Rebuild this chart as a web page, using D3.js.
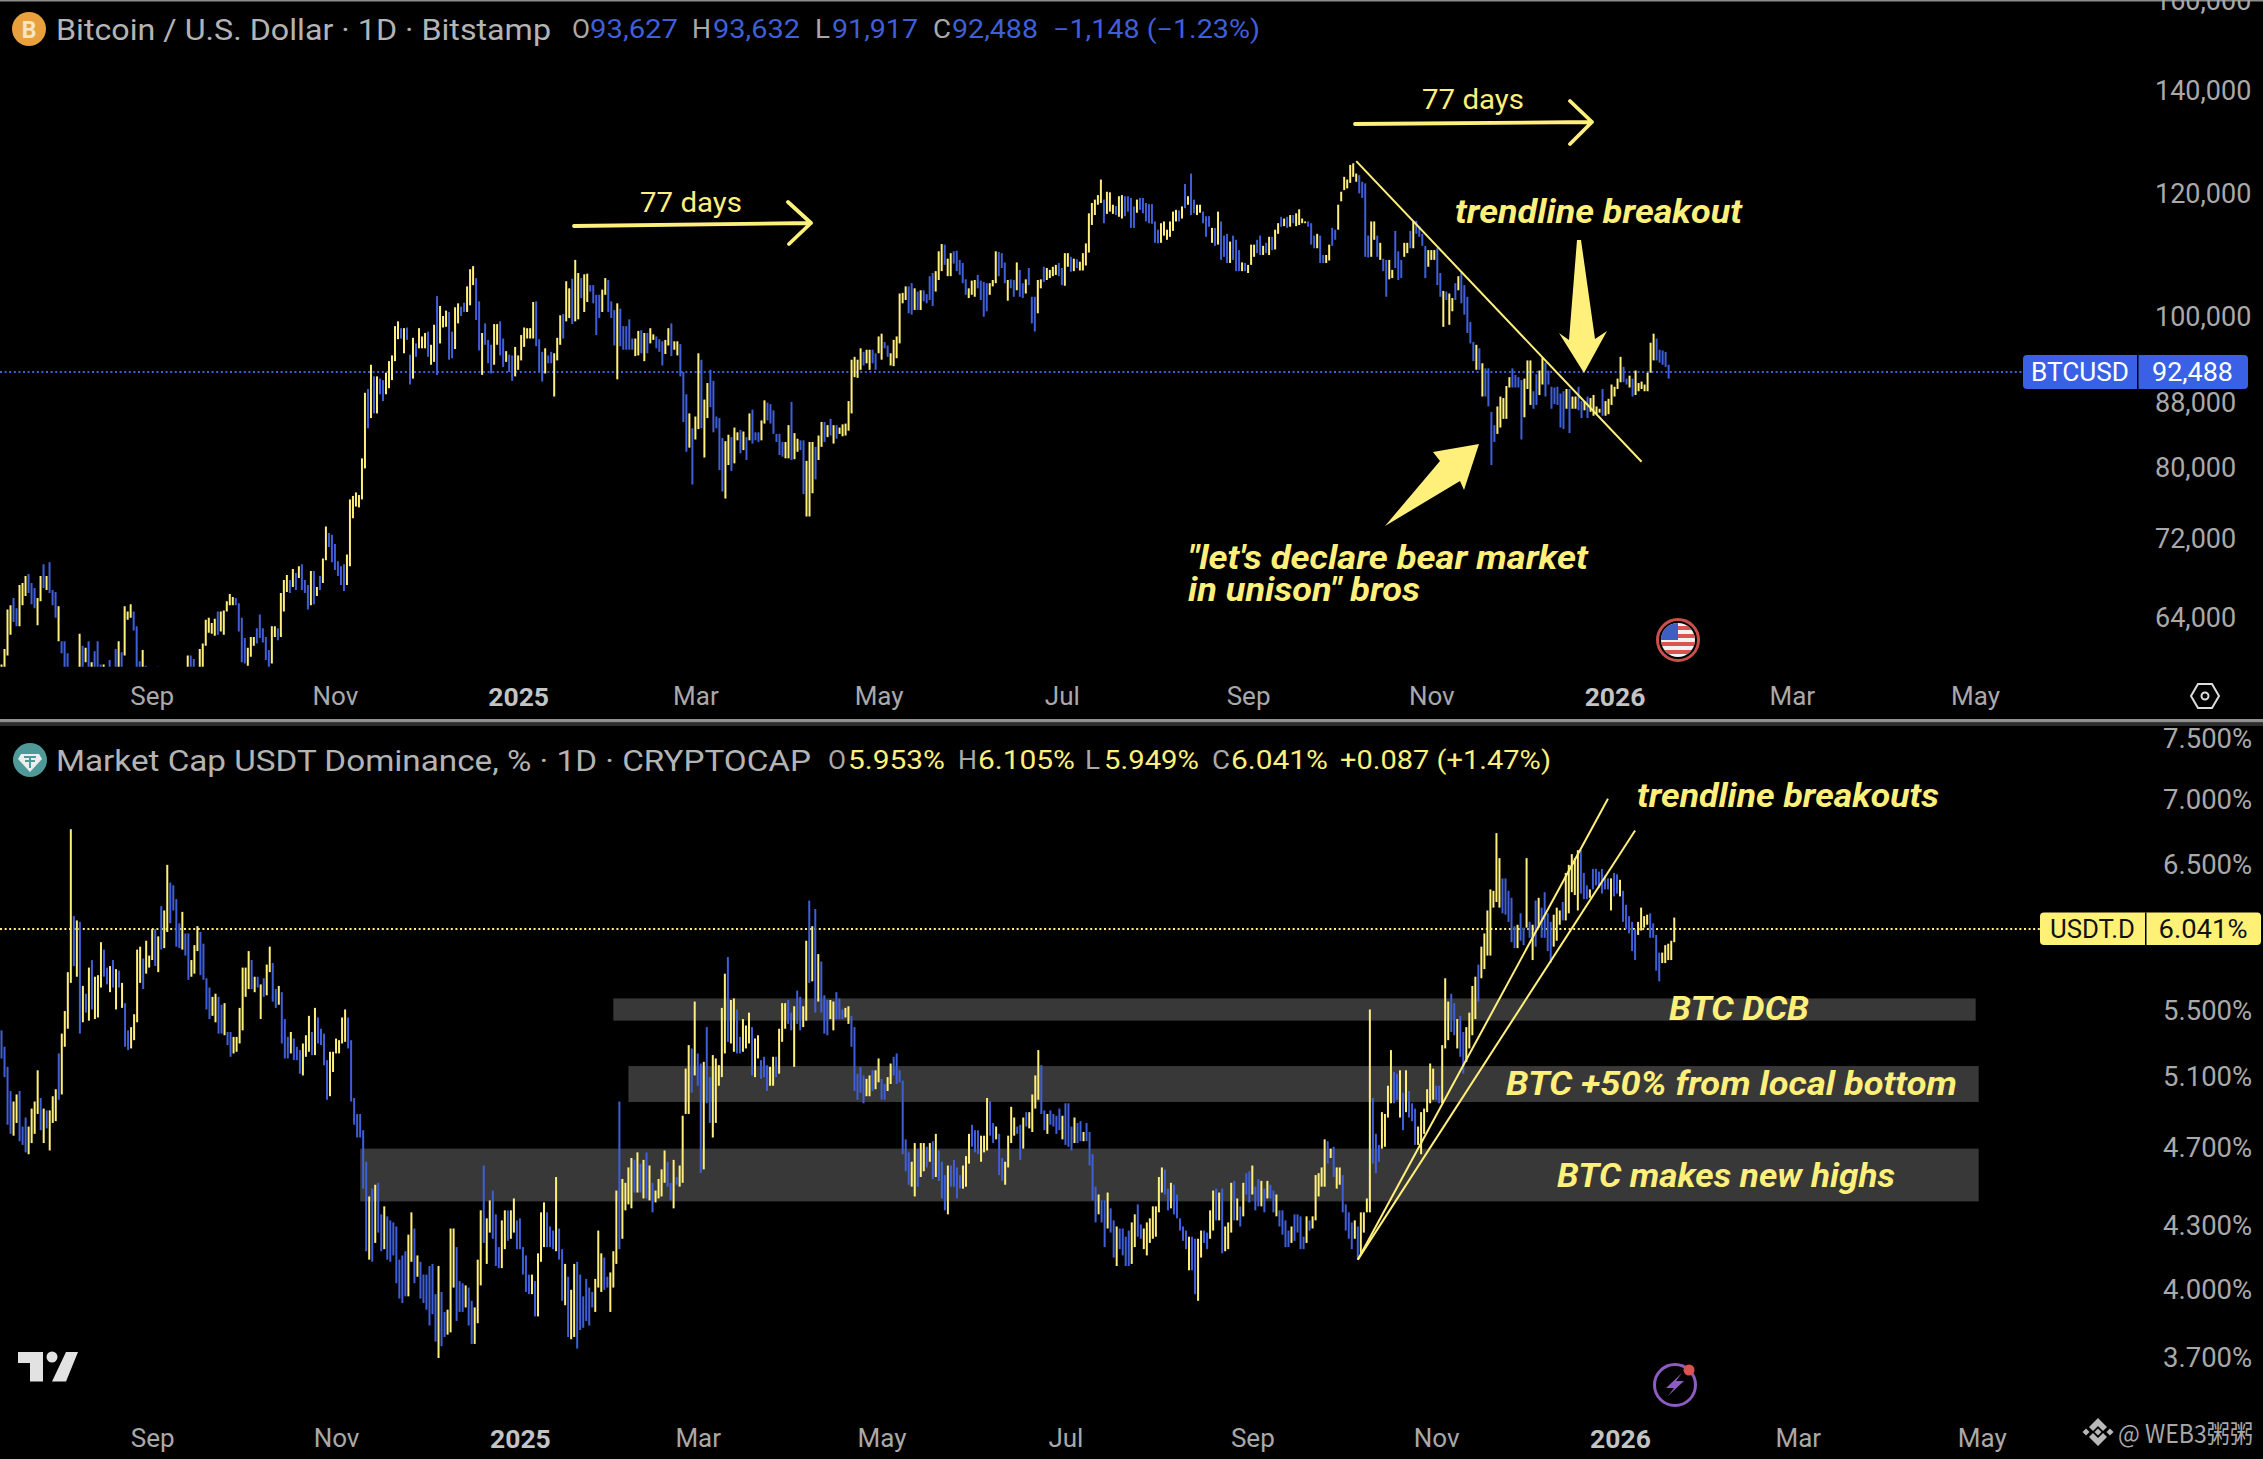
<!DOCTYPE html>
<html>
<head>
<meta charset="utf-8">
<style>
body { margin: 0; background: #000; overflow: hidden; }
text { font-family: Roboto, sans-serif; }
</style>
<script src="https://cdnjs.cloudflare.com/ajax/libs/d3/7.8.5/d3.min.js"></script>
</head>
<body>
<svg class="chart" width="2263" height="1459"></svg>
<script>
// BTCUSD daily, in thousands of dollars
var btcHigh = [
59.8,61.2,64.9,65.3,66.0,65.0,67.3,67.5,68.2,68.4,67.5,67.0,66.0,68.2,69.4,68.2,69.6,66.8,66.6,65.2,
61.9,61.9,60.8,58.5,57.5,58.8,62.6,61.5,61.3,61.9,60.0,61.0,61.9,59.8,59.8,59.3,60.2,58.5,61.2,61.9,
60.9,65.2,64.7,65.4,64.7,63.3,60.1,61.1,59.7,58.6,58.2,59.1,59.6,58.9,58.7,57.8,58.1,58.6,59.0,58.9,
59.2,59.5,60.6,60.6,60.3,59.4,61.2,61.7,63.9,64.1,63.6,64.0,64.7,64.7,64.8,65.7,66.4,66.1,66.0,65.5,
64.1,62.2,61.3,62.3,62.3,63.1,64.4,63.1,62.3,61.1,63.3,63.3,63.1,66.5,67.8,68.3,67.8,68.9,68.5,69.2,
69.4,67.8,67.3,68.7,68.7,67.1,68.2,70.0,73.4,72.7,72.5,71.5,69.7,69.2,69.4,70.4,76.4,76.8,77.2,76.9,
81.2,89.5,90.0,93.3,91.7,91.7,91.4,91.2,92.2,93.8,94.6,98.8,99.5,98.5,98.5,98.6,94.7,97.1,96.3,98.5,
97.3,97.8,98.0,96.1,99.0,103.3,101.8,100.3,101.1,100.9,98.0,101.6,102.2,101.7,102.3,104.8,107.5,108.0,106.1,102.5,
97.8,99.2,96.8,96.1,99.1,99.1,99.5,97.0,95.2,94.7,94.6,95.8,94.6,97.5,98.6,98.5,98.5,102.4,102.5,96.9,
95.1,95.6,94.6,95.1,94.9,97.1,100.4,100.6,105.6,104.5,106.0,109.0,106.9,106.1,106.7,106.8,105.0,105.0,103.5,103.5,
104.3,106.1,105.8,102.5,101.2,102.2,101.4,98.8,98.8,99.8,97.0,97.0,98.1,98.2,97.8,97.8,98.5,97.6,97.3,96.9,
96.6,96.8,98.5,99.2,96.6,96.6,96.2,92.3,89.3,86.8,84.9,86.4,94.9,94.0,88.6,90.8,92.6,91.1,86.4,86.2,
83.7,83.3,84.1,83.8,85.0,84.4,84.7,84.5,83.8,86.8,87.3,84.4,84.4,85.9,88.5,88.2,88.0,87.2,84.2,84.2,
83.2,83.2,85.3,88.3,84.3,83.6,83.4,83.4,80.9,83.2,83.2,82.6,84.0,85.7,85.7,85.3,86.1,85.3,85.3,85.0,
85.4,85.5,88.4,94.0,94.4,94.0,95.6,95.1,95.4,95.4,95.4,94.9,97.3,97.7,96.5,96.0,94.9,96.8,97.3,103.7,
103.8,104.8,104.8,105.3,104.5,104.0,104.2,104.2,103.6,106.4,106.9,107.2,110.4,111.6,111.5,109.2,110.1,110.4,110.5,109.0,
108.5,105.9,104.5,105.7,105.8,106.6,105.7,105.5,105.3,105.3,105.8,110.4,110.3,110.1,108.6,105.8,105.9,105.8,108.6,107.4,
105.3,105.9,107.7,103.2,103.2,105.8,105.9,107.9,107.7,107.4,107.9,108.2,108.5,107.7,110.1,110.1,109.5,109.2,109.1,108.7,
110.1,111.7,116.8,118.6,119.2,120.0,122.8,119.2,120.6,120.5,118.3,118.1,119.8,120.0,119.8,119.8,119.5,118.0,119.2,119.5,
119.5,118.6,118.4,118.4,115.4,114.0,115.1,115.4,114.0,115.4,117.1,117.4,117.3,118.0,122.0,119.8,123.9,119.2,118.3,118.3,
117.1,116.3,116.3,114.3,114.3,117.1,115.4,113.0,113.3,112.0,113.0,112.3,110.6,108.6,108.5,108.2,111.5,111.5,112.3,113.0,
111.3,111.8,112.8,112.8,114.0,115.1,116.2,115.9,116.2,116.5,116.5,116.8,117.5,115.9,115.4,115.4,115.1,113.0,113.3,113.0,
109.8,109.8,111.5,114.3,114.0,118.3,120.6,123.3,122.8,125.5,125.8,123.9,123.6,122.4,122.1,113.0,115.4,115.4,113.0,111.8,
109.2,109.0,109.0,107.4,113.8,110.4,109.0,111.8,111.8,113.8,115.4,115.5,114.6,113.3,111.3,110.6,110.6,110.6,110.9,106.9,
104.1,104.0,103.7,103.0,105.3,106.4,107.0,105.0,103.2,99.4,96.5,96.1,95.6,93.5,92.8,92.8,87.0,85.3,87.7,89.0,
88.8,90.4,91.6,92.8,91.9,91.6,91.2,91.4,93.9,93.9,89.7,92.0,92.5,94.3,93.6,92.5,90.3,90.2,90.3,89.4,
89.7,90.0,90.0,89.0,89.0,90.3,88.4,88.4,89.0,88.8,89.2,87.7,87.4,90.0,88.4,88.7,90.6,90.3,91.4,94.4,
93.0,91.4,91.8,91.4,92.5,90.8,91.0,90.6,92.2,96.4,97.7,97.0,95.4,95.3,95.1,93.3
];
var btcLow = [
57.5,58.5,60.6,62.5,63.7,63.3,63.3,65.3,66.2,66.5,65.4,65.0,63.4,65.7,67.0,66.8,66.5,65.3,64.1,61.9,
60.8,58.9,58.5,56.0,54.0,56.0,59.0,59.2,60.0,59.0,58.6,59.0,59.0,58.5,58.5,57.5,58.5,57.0,59.2,59.0,
58.8,60.6,63.9,64.1,62.9,59.0,58.8,59.0,58.8,57.2,56.8,57.5,58.0,57.6,57.0,56.6,56.9,57.2,57.5,57.8,
58.0,58.2,58.7,58.9,58.7,58.2,58.9,59.4,61.5,62.7,62.6,62.4,62.5,62.8,62.5,64.7,65.3,65.3,65.3,62.8,
60.0,59.9,59.7,60.5,61.5,61.7,62.2,61.8,60.2,59.0,59.9,62.3,62.0,62.3,64.7,66.6,66.5,67.1,66.8,68.0,
66.8,66.5,64.9,65.3,65.4,66.2,66.8,67.5,69.8,71.2,69.6,68.8,68.2,67.3,66.7,67.3,69.2,74.3,75.6,75.5,
76.4,80.0,84.9,86.2,86.8,86.8,89.3,88.4,89.3,90.1,91.2,93.8,96.9,97.0,94.9,96.8,90.6,91.4,94.4,95.6,
95.6,95.6,94.4,93.3,93.7,91.9,96.3,98.6,98.7,94.0,94.2,95.5,99.2,100.3,100.9,100.9,101.9,105.0,99.7,95.3,
91.9,96.1,93.5,92.1,93.3,96.1,94.6,93.0,93.7,92.3,91.1,91.7,92.6,93.9,95.8,97.0,97.0,97.0,95.9,92.3,
91.0,92.1,93.5,93.5,89.0,93.9,96.1,97.0,99.5,100.0,99.1,99.5,99.8,103.0,100.9,102.4,104.0,102.2,97.5,100.0,
100.9,103.5,100.9,100.0,96.0,91.3,95.9,95.4,95.4,95.4,95.4,94.5,94.6,94.9,93.8,94.9,96.3,96.8,95.6,95.1,
93.2,94.8,96.0,94.5,95.4,94.6,91.7,85.7,82.0,82.5,78.1,83.5,84.8,84.9,81.3,86.2,87.6,84.4,84.9,79.8,
77.3,76.5,80.4,79.7,80.6,83.4,81.8,82.2,81.0,83.4,83.0,83.4,83.2,83.4,85.5,85.9,85.5,84.2,83.2,81.6,
81.4,81.2,81.2,81.0,81.1,82.0,82.2,77.0,74.5,74.5,77.1,78.7,81.0,82.6,83.2,83.8,84.0,83.0,83.6,84.2,
83.9,84.0,84.6,86.8,91.6,91.5,92.6,93.2,93.5,92.6,93.5,92.6,94.9,94.0,95.6,94.4,93.2,93.1,94.2,96.3,
102.2,102.7,100.7,100.5,101.2,101.2,101.2,102.5,102.2,102.7,101.8,104.0,105.8,107.2,108.2,106.4,106.4,108.4,107.2,106.6,
105.3,103.5,103.0,103.5,103.2,104.5,102.7,100.2,101.0,103.5,104.8,105.3,106.4,107.7,105.3,102.6,104.5,103.2,104.2,103.2,
103.0,103.7,105.0,99.2,98.0,100.7,104.5,105.5,105.8,106.1,106.4,106.6,106.4,105.0,104.9,107.9,107.1,107.2,107.7,107.3,
107.3,108.1,110.2,114.8,116.5,118.3,118.6,115.1,116.7,117.1,116.7,116.5,116.2,115.9,116.3,117.1,114.3,114.3,116.9,117.4,
116.8,115.4,115.1,115.0,111.8,111.7,111.8,113.0,112.3,112.8,113.8,115.4,115.4,115.9,117.7,118.3,116.5,116.8,116.5,116.9,
115.1,112.8,114.5,111.8,111.3,111.5,109.0,109.5,108.5,108.5,109.0,107.2,107.2,107.2,107.2,106.9,108.2,109.5,110.1,109.8,
109.8,110.1,109.8,110.6,110.7,113.3,114.5,114.6,114.3,114.5,115.1,114.6,114.8,115.1,115.1,114.5,111.5,110.9,110.9,108.5,
108.5,108.5,108.9,111.3,112.3,114.0,118.9,120.9,121.2,122.2,123.3,122.4,120.3,119.5,109.5,109.4,109.5,112.3,109.5,109.0,
107.2,103.2,105.9,106.1,107.7,105.8,106.1,109.5,110.1,110.9,110.9,113.3,112.8,111.3,106.1,107.9,109.0,109.0,105.0,103.2,
98.7,102.7,99.0,101.0,102.7,104.2,102.2,100.5,97.8,96.3,93.8,92.6,92.6,89.0,89.0,87.7,80.4,83.2,84.2,85.0,
86.1,86.1,90.2,90.2,90.2,90.2,83.5,86.3,90.0,87.9,87.4,87.9,89.2,90.6,89.0,90.6,87.4,88.0,87.9,85.0,
84.8,87.4,84.3,87.4,87.4,87.2,86.2,87.2,86.2,87.0,86.5,86.7,86.9,86.5,86.5,86.7,87.9,89.0,90.0,90.9,
90.9,90.6,90.2,89.0,89.2,89.7,90.0,89.7,89.7,92.2,93.9,93.9,93.6,93.3,93.0,91.4
];
var btcDir = [
"YYYYBBYYYBBBYYBYBBBY","BBBBBYYBYBYBBBYYBYBY","BYYYBBBYBBYBBYBBYYBY","YYYBBBYYYYYYBYYYYYBB",
"BBYYYBBBBBYYBYYYBYBY","BBBYBYBYYBBBBBBYYYYY","YYBYBYBBYYYYYBYBBYBY","YYBYYBYYYBBYYBBYYYBB",
"YBBBYYBBYBBYYYYYYYBB","BYBBYYYBYYBYYBYYBBBB","YYBBBYBBBBBYYBYBYYBB","BYYBYYBBBYBYYBYYBBBB",
"BYYBYYBYBYBBBYYBBBBB","BYYBYYBBYYYBYYBYBYBY","YYYYYYYBYYBBYYBBYYYY","YYBBYBYBBBBYYYBYYBBB",
"BBYYYBBBBYYYBBBYBBYB","BYBBBYYBYYYYBBYYBYBY","YYYYYYYBYYYBYYBBBBYB","BBBBBBYYYYYYBYBYBBYY",
"BBBYBYBBBYBBBYBYYYBB","YBYBYYBYBYBYYYYBBBYB","BYYBBYYYYYYYBBBBYYBY","BBYYBBBYYBYBBBBYYYBB",
"YBYYBYBBBBBYBYBBBBYY","YYYBBBBYYYBBYYBBBBBB","BYBYYBBYBYYYYBYYYYYY","BBYBYYYYYYYBBBBB"
].join("");

// USDT dominance daily, in percent
var usdtHigh = [
5.38,5.28,5.16,5.02,4.96,5.00,5.02,4.82,4.87,4.82,4.92,4.96,5.14,4.98,4.92,4.91,4.91,4.99,5.03,5.24,
5.36,5.50,5.75,6.77,6.13,6.10,6.09,5.66,5.61,5.78,5.83,5.72,5.73,5.95,5.90,5.78,5.79,5.83,5.77,5.76,
5.68,5.55,5.38,5.40,5.48,5.90,5.92,5.84,5.96,5.86,6.04,6.04,5.99,6.20,6.17,6.50,6.37,6.35,6.25,6.08,
6.16,6.01,6.01,5.83,5.93,6.06,6.02,5.94,5.71,5.65,5.59,5.61,5.59,5.54,5.55,5.37,5.37,5.34,5.34,5.52,
5.78,5.78,5.89,5.83,5.72,5.72,5.67,5.71,5.80,5.92,5.81,5.64,5.66,5.62,5.45,5.34,5.37,5.33,5.28,5.26,
5.30,5.35,5.47,5.37,5.52,5.46,5.39,5.36,5.20,5.25,5.25,5.33,5.32,5.46,5.51,5.46,5.32,4.98,4.89,4.89,
4.80,4.63,4.45,4.49,4.51,4.52,4.36,4.40,4.35,4.33,4.32,4.30,4.14,4.16,4.18,4.26,4.37,4.29,4.16,4.13,
4.07,4.07,4.11,4.12,3.98,4.11,3.99,3.90,3.91,4.29,4.29,4.20,4.04,4.03,4.02,4.01,3.95,3.92,4.14,4.38,
4.61,4.34,4.43,4.48,4.36,4.20,4.33,4.38,4.38,4.38,4.44,4.33,4.34,4.20,4.16,4.07,4.07,4.04,4.17,4.37,
4.42,4.37,4.30,4.28,4.55,4.29,4.19,4.12,4.06,4.00,4.12,4.13,4.07,3.97,4.05,4.01,3.99,4.05,4.28,4.17,
4.15,4.06,4.08,4.18,4.48,4.96,4.54,4.52,4.60,4.65,4.64,4.68,4.62,4.64,4.68,4.61,4.52,4.48,4.54,4.59,
4.69,4.63,4.52,4.64,4.55,4.61,4.88,5.15,5.29,5.27,5.56,5.24,5.18,5.19,5.40,5.10,5.23,5.21,5.17,5.52,
5.74,5.85,5.57,5.58,5.51,5.34,5.45,5.41,5.49,5.40,5.33,5.35,5.20,5.22,5.17,5.16,5.22,5.22,5.39,5.55,
5.55,5.57,5.49,5.53,5.63,5.59,5.53,5.96,6.24,6.06,6.18,5.87,5.82,5.60,5.57,5.57,5.56,5.62,5.58,5.51,
5.52,5.53,5.47,5.40,5.12,5.16,5.11,5.09,5.11,5.14,5.14,5.21,5.09,5.06,5.10,5.18,5.22,5.24,5.14,5.08,
4.75,4.68,4.63,4.73,4.70,4.73,4.73,4.71,4.73,4.74,4.78,4.69,4.63,4.56,4.61,4.61,4.64,4.60,4.56,4.61,
4.66,4.78,4.83,4.80,4.80,4.77,4.77,4.98,4.96,4.84,4.82,4.78,4.65,4.63,4.77,4.93,4.87,4.82,4.83,4.87,
4.90,4.90,5.00,5.11,5.26,5.17,4.91,4.89,4.91,4.89,4.88,4.92,4.88,4.95,4.95,4.82,4.87,4.84,4.85,4.79,
4.84,4.79,4.67,4.50,4.46,4.43,4.43,4.47,4.39,4.33,4.30,4.29,4.29,4.25,4.28,4.32,4.36,4.41,4.31,4.29,
4.32,4.34,4.40,4.40,4.55,4.60,4.59,4.49,4.52,4.51,4.46,4.34,4.30,4.28,4.25,4.25,4.24,4.24,4.28,4.28,
4.27,4.38,4.48,4.49,4.47,4.49,4.30,4.32,4.52,4.53,4.44,4.40,4.52,4.57,4.58,4.61,4.50,4.54,4.53,4.49,
4.53,4.51,4.48,4.46,4.38,4.38,4.33,4.28,4.30,4.36,4.36,4.35,4.25,4.35,4.33,4.35,4.56,4.57,4.60,4.75,
4.74,4.70,4.71,4.60,4.60,4.56,4.41,4.37,4.32,4.33,4.30,4.37,4.37,4.44,5.51,4.98,4.78,4.72,4.90,4.89,
5.05,5.26,5.13,5.12,5.14,5.01,5.14,5.02,4.95,4.92,4.82,4.90,4.92,5.03,5.18,5.15,5.05,5.05,5.29,5.71,
5.56,5.61,5.55,5.45,5.47,5.37,5.40,5.49,5.66,5.72,5.80,5.92,6.01,6.17,6.32,6.31,6.74,6.55,6.40,6.40,
6.31,6.26,6.06,6.07,6.15,6.05,6.55,6.09,6.07,6.24,6.26,6.19,6.30,6.15,6.09,6.14,6.19,6.17,6.23,6.44,
6.50,6.58,6.55,6.61,6.61,6.44,6.35,6.32,6.47,6.47,6.45,6.47,6.42,6.40,6.40,6.44,6.43,6.39,6.31,6.21,
6.13,6.09,6.04,6.09,6.19,6.13,6.14,6.15,6.08,6.00,5.88,5.88,5.93,5.94,5.96,6.12
];
var usdtLow = [
5.21,5.10,4.83,4.78,4.77,4.84,4.74,4.72,4.68,4.67,4.73,4.78,4.89,4.80,4.73,4.81,4.69,4.84,4.85,4.97,
5.00,5.28,5.39,5.68,5.79,5.72,5.36,5.43,5.49,5.44,5.51,5.45,5.46,5.65,5.72,5.67,5.62,5.65,5.51,5.65,
5.52,5.28,5.26,5.27,5.32,5.43,5.68,5.64,5.74,5.78,5.83,5.79,5.75,5.90,5.91,6.02,6.08,6.17,5.92,5.91,
5.90,5.86,5.70,5.72,5.74,5.89,5.73,5.70,5.51,5.45,5.47,5.43,5.36,5.36,5.35,5.29,5.22,5.24,5.25,5.30,
5.38,5.59,5.64,5.64,5.62,5.65,5.45,5.59,5.60,5.75,5.56,5.52,5.54,5.30,5.21,5.21,5.24,5.20,5.20,5.12,
5.11,5.22,5.25,5.23,5.23,5.30,5.29,5.17,4.97,4.99,5.13,5.24,5.24,5.30,5.31,5.27,4.96,4.83,4.76,4.76,
4.49,4.18,4.14,4.13,4.22,4.27,4.18,4.19,4.14,4.13,4.16,4.03,3.96,3.94,3.97,3.97,4.13,4.03,4.06,3.96,
3.94,3.91,3.84,3.89,3.77,3.70,3.75,3.79,3.80,3.81,4.01,3.86,3.90,3.90,3.92,3.84,3.76,3.76,3.85,4.02,
4.22,4.12,4.27,4.24,4.11,4.10,4.10,4.19,4.23,4.24,4.27,4.19,4.19,4.07,3.99,3.98,3.98,3.88,3.88,4.13,
4.20,4.20,4.20,4.19,4.18,4.14,3.95,3.93,3.79,3.78,3.79,3.74,3.82,3.83,3.86,3.84,3.92,3.90,4.01,3.99,
4.00,4.01,3.90,4.01,4.12,4.19,4.24,4.38,4.41,4.39,4.47,4.47,4.47,4.44,4.44,4.43,4.37,4.42,4.44,4.45,
4.52,4.50,4.43,4.39,4.51,4.50,4.52,4.89,4.89,5.01,5.11,5.05,4.57,4.59,4.95,4.84,4.76,4.84,5.05,5.10,
5.24,5.31,5.30,5.25,5.24,5.24,5.25,5.27,5.30,5.11,5.10,5.21,5.09,5.10,5.02,5.05,5.05,5.10,5.12,5.31,
5.39,5.42,5.38,5.16,5.42,5.38,5.40,5.44,5.68,5.69,5.49,5.56,5.49,5.36,5.35,5.45,5.38,5.45,5.45,5.45,
5.46,5.42,5.28,5.02,4.97,5.01,4.95,4.99,4.99,5.02,5.03,5.07,4.97,4.97,5.02,5.06,5.11,5.06,5.07,4.67,
4.58,4.51,4.50,4.45,4.50,4.55,4.58,4.60,4.63,4.54,4.55,4.53,4.44,4.38,4.36,4.50,4.50,4.44,4.49,4.49,
4.50,4.62,4.71,4.68,4.67,4.63,4.68,4.69,4.77,4.73,4.75,4.56,4.53,4.51,4.60,4.73,4.77,4.78,4.64,4.70,
4.82,4.81,4.79,4.92,4.97,4.89,4.80,4.78,4.83,4.82,4.78,4.80,4.75,4.72,4.71,4.69,4.73,4.73,4.74,4.74,
4.74,4.61,4.43,4.32,4.36,4.32,4.20,4.29,4.27,4.15,4.11,4.19,4.16,4.11,4.11,4.12,4.20,4.25,4.24,4.19,
4.16,4.22,4.24,4.25,4.37,4.47,4.46,4.38,4.39,4.36,4.34,4.28,4.23,4.19,4.09,4.09,3.98,3.95,4.15,4.22,
4.19,4.24,4.28,4.33,4.33,4.17,4.18,4.19,4.27,4.33,4.33,4.30,4.35,4.46,4.42,4.46,4.38,4.40,4.40,4.37,
4.44,4.44,4.37,4.35,4.30,4.26,4.20,4.20,4.22,4.23,4.27,4.19,4.19,4.22,4.28,4.29,4.33,4.45,4.50,4.50,
4.62,4.65,4.55,4.49,4.51,4.37,4.28,4.24,4.19,4.24,4.14,4.17,4.27,4.37,4.37,4.62,4.57,4.63,4.70,4.71,
4.87,4.95,4.95,4.97,4.87,4.80,4.90,4.87,4.85,4.72,4.72,4.67,4.78,4.90,4.95,4.97,4.97,4.95,4.95,5.27,
5.32,5.37,5.35,5.27,5.22,5.12,5.19,5.27,5.35,5.45,5.56,5.71,5.77,5.86,5.86,6.19,6.23,6.19,6.15,6.14,
6.09,5.95,5.91,5.91,5.96,5.93,6.05,5.98,5.83,5.92,6.05,5.98,5.98,5.89,5.81,5.92,5.96,6.07,6.10,6.10,
6.15,6.30,6.28,6.17,6.29,6.25,6.25,6.26,6.32,6.35,6.33,6.29,6.32,6.32,6.17,6.27,6.29,6.27,6.09,6.04,
6.01,5.89,5.83,6.00,6.03,6.05,6.07,5.98,5.98,5.76,5.69,5.81,5.81,5.83,5.83,5.95
];
var usdtDir = [
"BBBBYYBBBYYYYBYBYYYB","YYYYBYBYBYBYYYBBYBYB","YBBYYYYBYYYBYBYYBBBB","YBBYYYBBBBYYBBYBBYYY",
"YYYBYBYBYYBBYBBBYBBB","YYYBYBBBBYYYYYYBBBBB","BBYBYBBYBBBBBBBYYBYB","BBBBBYBBYYYBBBYBBYYY",
"BYYBBBYYBYYBBBBBYBYY","YBBBYBBYBYYBBBBBBYYY","BBYYYBYYYYBYBYBYBYYY","YBBYBYYYYBYBBYBBYYYY",
"YBYYBBYYYBYYBBBYYBYY","YBBYBBYYBYBYBBBYYBBB","YYBBBBBYYBYYBBYYBBBB","BBYYBYYBYBYBBBYBBBBY",
"YYBBBYYYBBYBBYYYYBBY","BYYYYBBYBBBBYBBBYBBY","BBBBYBBYBBYBBBBYYBBY","YYYYYYBBYBBBBBYBBYYB",
"BYYBYBYYYBYBYBBYBBYB","YBBYBBBBYBBBBYBYYYYY","BYBYYBBBBYBYYYYBBBYY","YYBBYBYBBBYYYYYYBBYY",
"YBBYBBYYYYBYYYYYYYBB","BBBYBBYBYBYBBBBYYYBY","YYYYBBBYBBBBBBYBBYBB","BBBYYYYBBBBYYYYY"
].join("");

var startDay = new Date(Date.UTC(2024, 6, 13));
var tickDates = [[2024,8],[2024,10],[2025,0],[2025,2],[2025,4],[2025,6],[2025,8],[2025,10],[2026,0],[2026,2],[2026,4]];
var btcTicks = [160000, 140000, 120000, 100000, 88000, 80000, 72000, 64000];
var usdtTicks = [7.5, 7, 6.5, 5.5, 5.1, 4.7, 4.3, 4, 3.7];
var btcLast = 92488;
var usdtLast = 6.041;
var usdtZones = [[203, 655.5, 5.58, 5.44], [208, 656.5, 5.165, 4.957], [119.3, 656.5, 4.70, 4.425]];
var btcTrend = [[451, 126200], [546, 80800]];
var usdtTrends = [[[450, 4.14], [533.4, 7.01]], [[450, 4.14], [542.2, 6.76]]];

var YELLOW = '#fff07c';
var BLUE = '#3f5fd9';
var GREY = '#a9a9a9';

var svg = d3.select('.chart');
svg.append('rect').attr('width', 2263).attr('height', 1459).attr('fill', '#000');

var dayDate = i => d3.utcDay.offset(startDay, i);
var endDate = dayDate(657);
var x1 = d3.scaleUtc().domain([startDay, endDate]).range([1.5, 1975]);
var x2 = d3.scaleUtc().domain([startDay, endDate]).range([1.5, 1981.7]);
var y1 = d3.scaleLog().domain([160000, 64000]).range([1.2, 618.8]);
var y2 = d3.scaleLog().domain([7.5, 3.7]).range([739.6, 1358]);

var defs = svg.append('defs');
defs.append('clipPath').attr('id', 'clipTop').append('rect').attr('width', 2263).attr('height', 666.7);
defs.append('clipPath').attr('id', 'clipBot').append('rect').attr('y', 728).attr('width', 2263).attr('height', 684);

// top edge and pane separator
svg.append('rect').attr('width', 2263).attr('height', 1.5).attr('fill', '#8c8c8c');
svg.append('rect').attr('y', 719).attr('width', 2263).attr('height', 3.5).attr('fill', '#909090');
svg.append('rect').attr('y', 722.5).attr('width', 2263).attr('height', 3.5).attr('fill', '#2e2e2e');

function txt(x, y, s, o) {
  o = o || {};
  var t = svg.append('text')
    .attr('x', x).attr('y', y)
    .attr('dominant-baseline', 'central')
    .attr('fill', o.fill || GREY)
    .attr('font-size', o.size || 26)
    .attr('font-weight', o.weight || 400)
    .attr('font-style', o.italic ? 'italic' : 'normal')
    .attr('text-anchor', o.anchor || 'start')
    .text(s);
  if (o.family) t.style('font-family', o.family);
  if (o.len) t.attr('textLength', o.len).attr('lengthAdjust', 'spacingAndGlyphs');
  return t;
}

// zones sit under the bars
var zoneG = svg.append('g').attr('clip-path', 'url(#clipBot)');
zoneG.selectAll('rect').data(usdtZones).enter().append('rect')
  .attr('x', d => x2(dayDate(d[0])))
  .attr('width', d => x2(dayDate(d[1])) - x2(dayDate(d[0])))
  .attr('y', d => y2(d[2]))
  .attr('height', d => y2(d[3]) - y2(d[2]))
  .attr('fill', '#383838');

// last price lines
svg.append('line').attr('x1', 0).attr('x2', 2023).attr('y1', y1(btcLast) + 1.3).attr('y2', y1(btcLast) + 1.3)
  .attr('stroke', BLUE).attr('stroke-width', 2).attr('stroke-dasharray', '2 2.6');
svg.append('line').attr('x1', 0).attr('x2', 2040).attr('y1', y2(usdtLast)).attr('y2', y2(usdtLast))
  .attr('stroke', YELLOW).attr('stroke-width', 2).attr('stroke-dasharray', '2 2.6');

function drawBars(clip, xs, ys, hi, lo, dir, k) {
  svg.append('g').attr('clip-path', clip)
    .selectAll('line').data(hi).enter().append('line')
    .attr('x1', (d, i) => xs(dayDate(i)))
    .attr('x2', (d, i) => xs(dayDate(i)))
    .attr('y1', d => ys(d * k))
    .attr('y2', (d, i) => ys(lo[i] * k))
    .attr('stroke', (d, i) => dir[i] == 'Y' ? YELLOW : BLUE)
    .attr('stroke-width', 2);
}
drawBars('url(#clipTop)', x1, y1, btcHigh, btcLow, btcDir, 1000);
drawBars('url(#clipBot)', x2, y2, usdtHigh, usdtLow, usdtDir, 1);

// x axes
function drawXAxis(xs, y) {
  var axis = d3.axisBottom(xs)
    .tickValues(tickDates.map(d => new Date(Date.UTC(d[0], d[1], 1))))
    .tickSize(0)
    .tickFormat(d => d.getUTCMonth() == 0 ? d.getUTCFullYear() : d3.utcFormat('%b')(d));
  var g = svg.append('g').attr('transform', 'translate(0,' + y + ')').call(axis);
  g.select('.domain').remove();
  g.selectAll('text')
    .attr('y', 0).attr('dy', 0)
    .attr('dominant-baseline', 'central')
    .attr('font-size', d => d.getUTCMonth() == 0 ? 26.5 : 26)
    .attr('fill', d => d.getUTCMonth() == 0 ? '#c4c4c4' : GREY)
    .attr('font-weight', d => d.getUTCMonth() == 0 ? 700 : 400);
}
drawXAxis(x1, 696.3);
drawXAxis(x2, 1438);

// y axes, left aligned like the original
var yAxis1 = d3.axisRight(y1).tickValues(btcTicks).tickSize(0).tickFormat(d3.format(','));
var gy1 = svg.append('g').attr('transform', 'translate(2155,-1.2)').call(yAxis1);
gy1.select('.domain').remove();
gy1.selectAll('text').attr('x', 0).attr('dy', 0).attr('dominant-baseline', 'central')
  .attr('font-size', 27).attr('fill', GREY);

var yAxis2 = d3.axisRight(y2).tickValues(usdtTicks).tickSize(0).tickFormat(d => d.toFixed(3) + '%');
var gy2 = svg.append('g').attr('transform', 'translate(2163,-1.2)').call(yAxis2);
gy2.select('.domain').remove();
gy2.selectAll('text').attr('x', 0).attr('dy', 0).attr('dominant-baseline', 'central')
  .attr('font-size', 27.5).attr('fill', GREY);

// price tags
function priceTag(x, x2_, mid, y0, y3, fill, color, name, nameLen, val, valLen) {
  svg.append('rect').attr('x', x).attr('y', y0).attr('width', x2_ - x).attr('height', y3 - y0).attr('rx', 4).attr('fill', fill);
  svg.append('rect').attr('x', mid).attr('y', y0).attr('width', 1.5).attr('height', y3 - y0).attr('fill', '#000');
  txt((x + mid) / 2, (y0 + y3) / 2, name, { fill: color, anchor: 'middle', size: 26, len: nameLen });
  txt((mid + x2_) / 2, (y0 + y3) / 2, val, { fill: color, anchor: 'middle', size: 26, len: valLen });
}
priceTag(2023, 2248, 2137, 355, 389, '#3a60e6', '#fff', 'BTCUSD', 98, d3.format(',')(btcLast), 81);
priceTag(2040, 2261, 2145, 912.5, 945, '#fff176', '#111', 'USDT.D', 85, usdtLast + '%', 89);

// headers
txt(56, 29, 'Bitcoin / U.S. Dollar · 1D · Bitstamp', { size: 30, len: 495, fill: '#b4b4b4' });
var topHead = [[572, 'O', 18, GREY], [590, '93,627', 88, BLUE], [692, 'H', 19, GREY], [713, '93,632', 87, BLUE],
  [815, 'L', 15, GREY], [832, '91,917', 86, BLUE], [933, 'C', 18, GREY], [952, '92,488', 86, BLUE], [1053, '−1,148 (−1.23%)', 207, BLUE]];
topHead.forEach(d => txt(d[0], 29, d[1], { size: 25, len: d[2], fill: d[3] }));

txt(56, 760, 'Market Cap USDT Dominance, % · 1D · CRYPTOCAP', { size: 30, len: 755, fill: '#b4b4b4' });
var botHead = [[828, 'O', 18, GREY], [848, '5.953%', 97, YELLOW], [958, 'H', 19, GREY], [978, '6.105%', 97, YELLOW],
  [1085, 'L', 15, GREY], [1104, '5.949%', 95, YELLOW], [1212, 'C', 18, GREY], [1231, '6.041%', 97, YELLOW], [1340, '+0.087 (+1.47%)', 211, YELLOW]];
botHead.forEach(d => txt(d[0], 760, d[1], { size: 25, len: d[2], fill: d[3] }));

// symbol icons
svg.append('circle').attr('cx', 29).attr('cy', 29).attr('r', 17).attr('fill', '#e8a13e');
txt(29, 30, 'B', { anchor: 'middle', size: 23, weight: 700, fill: '#f6e6c8' });
svg.append('circle').attr('cx', 30).attr('cy', 760).attr('r', 17).attr('fill', '#4f9a98');
svg.append('path').attr('d', 'M21 754 L39 754 L42 759 L30 772 L18 759 Z').attr('fill', '#eee');
svg.append('path').attr('d', 'M24 757 H36 M30 757 V768 M25 761 H35').attr('stroke', '#4f9a98').attr('stroke-width', 2).attr('fill', 'none');

// trendlines, anchored on the scales
svg.append('line')
  .attr('x1', x1(dayDate(btcTrend[0][0]))).attr('y1', y1(btcTrend[0][1]))
  .attr('x2', x1(dayDate(btcTrend[1][0]))).attr('y2', y1(btcTrend[1][1]))
  .attr('stroke', YELLOW).attr('stroke-width', 2);
usdtTrends.forEach(t => {
  svg.append('line')
    .attr('x1', x2(dayDate(t[0][0]))).attr('y1', y2(t[0][1]))
    .attr('x2', x2(dayDate(t[1][0]))).attr('y2', y2(t[1][1]))
    .attr('stroke', YELLOW).attr('stroke-width', 2);
});

// hand drawn arrows
var openArrows = ['M574 226 L811 223 M788 202 L811 223 L789 244', 'M1355 124 L1592 122 M1570 101 L1592 122 L1570 144'];
svg.selectAll('.open').data(openArrows).enter().append('path')
  .attr('d', d => d).attr('fill', 'none').attr('stroke', YELLOW).attr('stroke-width', 3.8)
  .attr('stroke-linecap', 'round').attr('stroke-linejoin', 'round');
var fatArrows = ['M1577 240 L1581 240 L1595 339 L1607 331 L1584 373 L1559 333 L1569 340 Z',
  'M1385 526 L1440 461 L1433 452 L1479 444 L1464 490 L1460 481 Z'];
svg.selectAll('.fat').data(fatArrows).enter().append('path').attr('d', d => d).attr('fill', YELLOW);

// annotations
txt(691, 202, '77 days', { fill: YELLOW, anchor: 'middle', size: 28, len: 102 });
txt(1473, 99, '77 days', { fill: YELLOW, anchor: 'middle', size: 28, len: 102 });
var notes = [
  [1455, 211, 'trendline breakout', 287],
  [1188, 557, '"let\'s declare bear market', 400],
  [1188, 589, 'in unison" bros', 232],
  [1637, 795, 'trendline breakouts', 302],
  [1669, 1008, 'BTC DCB', 140],
  [1506, 1083, 'BTC +50% from local bottom', 451],
  [1557, 1175, 'BTC makes new highs', 338]
];
notes.forEach(d => txt(d[0], d[1], d[2], { fill: YELLOW, size: 33, weight: 700, italic: true, len: d[3] }));

// US flag event badge
svg.append('circle').attr('cx', 1678).attr('cy', 640).attr('r', 20.5).attr('fill', '#000').attr('stroke', '#c9504a').attr('stroke-width', 3);
defs.append('clipPath').attr('id', 'flagClip').append('circle').attr('cx', 1678).attr('cy', 640).attr('r', 17);
var flag = svg.append('g').attr('clip-path', 'url(#flagClip)');
flag.append('rect').attr('x', 1660).attr('y', 622).attr('width', 36).attr('height', 36).attr('fill', '#f2f2f2');
[626, 634, 642, 650].forEach(y => flag.append('rect').attr('x', 1660).attr('y', y).attr('width', 36).attr('height', 4).attr('fill', '#d9534f'));
flag.append('rect').attr('x', 1660).attr('y', 622).attr('width', 18).attr('height', 18).attr('fill', '#3d5fc4');

// bolt badge
svg.append('circle').attr('cx', 1675).attr('cy', 1385).attr('r', 20.5).attr('fill', 'none').attr('stroke', '#8e5bc0').attr('stroke-width', 3);
svg.append('path').attr('d', 'M1682 1373 L1666 1388 L1674 1388 L1668 1396 L1684 1381 L1676 1381 Z').attr('fill', '#8e5bc0');
svg.append('circle').attr('cx', 1689).attr('cy', 1370).attr('r', 5.5).attr('fill', '#d9534f');

// settings hexagon
svg.append('path').attr('d', 'M2198 684 L2212 684 L2219 696 L2212 708 L2198 708 L2191 696 Z').attr('fill', 'none').attr('stroke', '#ddd').attr('stroke-width', 2);
svg.append('circle').attr('cx', 2205).attr('cy', 696).attr('r', 3.5).attr('fill', 'none').attr('stroke', '#ddd').attr('stroke-width', 2);

// TradingView mark
svg.append('path').attr('d', 'M18 1352 H43 V1381.5 H30 V1363 H18 Z M66 1352 H78 L66 1381.5 H52 Z').attr('fill', '#e2e2e2');
svg.append('circle').attr('cx', 52).attr('cy', 1357).attr('r', 5.5).attr('fill', '#e2e2e2');

// watermark
var wm = [[2086, 1432, 3.5], [2098, 1432, 3.5], [2110, 1432, 3.5]];
svg.append('path').attr('d', 'M2098 1418 L2107 1427 L2103 1431 L2098 1426 L2093 1431 L2089 1427 Z M2098 1446 L2107 1437 L2103 1433 L2098 1438 L2093 1433 L2089 1437 Z').attr('fill', '#b8b8b8');
wm.forEach(d => svg.append('path')
  .attr('d', 'M' + d[0] + ' ' + (d[1] - d[2]) + ' L' + (d[0] + d[2]) + ' ' + d[1] + ' L' + d[0] + ' ' + (d[1] + d[2]) + ' L' + (d[0] - d[2]) + ' ' + d[1] + ' Z')
  .attr('fill', '#b8b8b8'));
txt(2118, 1432, '@ WEB3粥粥', { size: 25, len: 135, fill: '#a8a8a8', family: "'Noto Sans CJK SC', Roboto, sans-serif" });
</script>
</body>
</html>
